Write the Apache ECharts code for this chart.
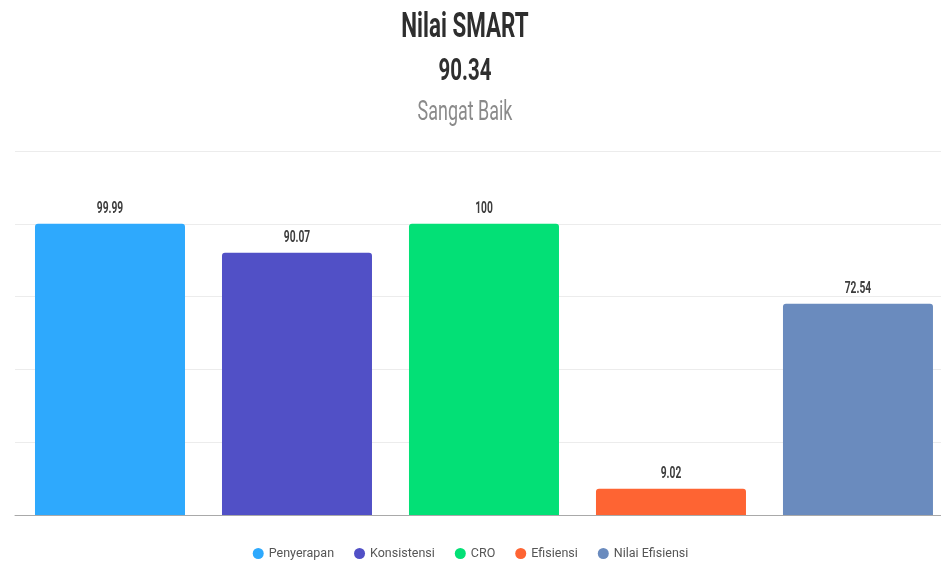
<!DOCTYPE html>
<html>
<head>
<meta charset="utf-8">
<style>
  html, body { margin: 0; padding: 0; background: #ffffff; }
  #chart { width: 941px; height: 566px; }
</style>
<script src="https://cdn.jsdelivr.net/npm/echarts@6/dist/echarts.min.js"></script>
</head>
<body>
<div id="chart"></div>
<script>
// Component scores that make up the SMART value
const seriesNames = ['Penyerapan', 'Konsistensi', 'CRO', 'Efisiensi', 'Nilai Efisiensi'];
const seriesValues = [99.99, 90.07, 100, 9.02, 72.54];
const seriesColors = ['#2EA9FD', '#5150C6', '#03E076', '#FE6433', '#6A8BBE'];
const totalScore = '90.34';
const ratingText = 'Sangat Baik';

const FONT = 'Roboto, "Liberation Sans", sans-serif';
const CONDENSE = 0.64; // horizontal squeeze for the condensed typeface look

const chart = echarts.init(document.getElementById('chart'), null, { renderer: 'canvas' });

// One bar series per component; slot index i on a numeric x axis
const barSeries = seriesNames.map((name, i) => ({
  name: name,
  type: 'bar',
  data: [[i, seriesValues[i]]],
  barWidth: 150,
  barGap: '-100%',
  itemStyle: { color: seriesColors[i], borderRadius: [3, 3, 0, 0] }
}));

// Condensed value labels placed above each bar via the axis scales
const labelSeries = {
  type: 'custom',
  silent: true,
  z: 10,
  data: seriesValues.map((v, i) => [i, v]),
  renderItem: function (params, api) {
    const p = api.coord([api.value(0), api.value(1)]);
    return {
      type: 'text',
      x: p[0],
      y: p[1] - 15,
      scaleX: CONDENSE,
      style: {
        text: String(seriesValues[params.dataIndex]),
        font: 'bold 16px ' + FONT,
        fill: '#3d3d3d',
        align: 'center',
        verticalAlign: 'middle'
      }
    };
  }
};

function titleText(text, y, size, weight, color) {
  return {
    type: 'text',
    x: 465,
    y: y,
    scaleX: CONDENSE,
    style: {
      text: text,
      font: weight + ' ' + size + 'px ' + FONT,
      fill: color,
      align: 'center',
      verticalAlign: 'middle'
    }
  };
}

chart.setOption({
  animation: false,
  graphic: [
    titleText('Nilai SMART', 28, 35, 'bold', '#2e2e2e'),
    titleText(totalScore, 72, 32, 'bold', '#2e2e2e'),
    titleText(ratingText, 113, 28, 'normal', '#8a8a8a')
  ],
  legend: {
    data: seriesNames,
    bottom: 1,
    left: 'center',
    icon: 'circle',
    itemWidth: 11,
    itemHeight: 11,
    itemGap: 20,
    textStyle: { fontFamily: FONT, fontSize: 12.5, color: '#555555' }
  },
  grid: { left: 15, right: 0, top: 151, bottom: 51, containLabel: false },
  xAxis: {
    type: 'value',
    min: -0.508,
    max: 4.444,
    splitLine: { show: false },
    axisLine: { show: true, onZero: false, lineStyle: { color: '#a9a9a9', width: 1 } },
    axisTick: { show: false },
    axisLabel: { show: false }
  },
  yAxis: {
    type: 'value',
    min: 0,
    max: 125,
    interval: 25,
    axisLine: { show: false },
    axisTick: { show: false },
    axisLabel: { show: false },
    splitLine: { lineStyle: { color: '#ececec', width: 1 } }
  },
  series: barSeries.concat([labelSeries])
});
</script>
</body>
</html>
